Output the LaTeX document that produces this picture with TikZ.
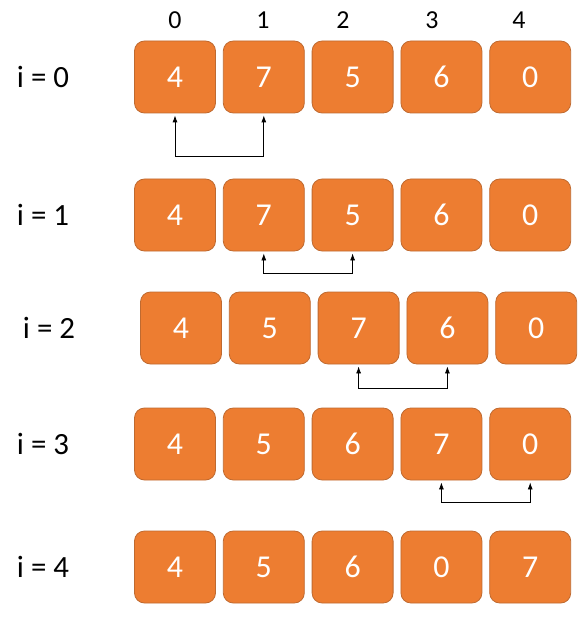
\documentclass[tikz,border=0pt]{standalone}
\usepackage{fontspec}
\setmainfont{Carlito}
\usetikzlibrary{arrows.meta,positioning}
\definecolor{boxorange}{HTML}{ED7D31}
\definecolor{boxedge}{HTML}{BF6A30}
\begin{document}
\begin{tikzpicture}[x=1bp,y=-1bp]
  \tikzstyle{cell}=[shape=rectangle, rounded corners=10bp, draw=boxedge, fill=boxorange, line width=0.8bp, text=white, minimum width=81bp, minimum height=72bp, inner sep=0pt, font=\fontsize{32}{36}\selectfont]
  \tikzstyle{rowlabel}=[inner sep=0pt, font=\fontsize{31}{36}\selectfont]
  \tikzstyle{index}=[inner sep=0pt, font=\fontsize{26}{30}\selectfont]
  \tikzstyle{connection}=[color=black, line width=0.8bp, {Latex[length=7bp,width=5bp]}-{Latex[length=7bp,width=5bp]}, shorten <=2bp, shorten >=2bp]

  \useasboundingbox (0,0) rectangle (580,619);

  % column indices
  \node [index] (I0) at (175,20) {0};
  \node [index] (I1) at (263,20) {1};
  \node [index] (I2) at (343,20) {2};
  \node [index] (I3) at (432,20) {3};
  \node [index] (I4) at (519,20) {4};

  % i = 0
  \node [rowlabel] (L0) at (43,77) {i = 0};
  \node [cell] (A0) at (175,77) {4};
  \node [cell,right=7bp of A0] (A1) {7};
  \node [cell,right=7bp of A1] (A2) {5};
  \node [cell,right=7bp of A2] (A3) {6};
  \node [cell,right=7bp of A3] (A4) {0};
  \draw[connection] (A0.south) -- ++(0,43) -| (A1.south);

  % i = 1
  \node [rowlabel] (L1) at (43,215) {i = 1};
  \node [cell] (B0) at (175,215) {4};
  \node [cell,right=7bp of B0] (B1) {7};
  \node [cell,right=7bp of B1] (B2) {5};
  \node [cell,right=7bp of B2] (B3) {6};
  \node [cell,right=7bp of B3] (B4) {0};
  \draw[connection] (B1.south) -- ++(0,22) -| (B2.south);

  % i = 2
  \node [rowlabel] (L2) at (49,328) {i = 2};
  \node [cell] (C0) at (181,328) {4};
  \node [cell,right=7bp of C0] (C1) {5};
  \node [cell,right=7bp of C1] (C2) {7};
  \node [cell,right=7bp of C2] (C3) {6};
  \node [cell,right=7bp of C3] (C4) {0};
  \draw[connection] (C2.south) -- ++(0,24) -| (C3.south);

  % i = 3
  \node [rowlabel] (L3) at (43,444) {i = 3};
  \node [cell] (D0) at (175,444) {4};
  \node [cell,right=7bp of D0] (D1) {5};
  \node [cell,right=7bp of D1] (D2) {6};
  \node [cell,right=7bp of D2] (D3) {7};
  \node [cell,right=7bp of D3] (D4) {0};
  \draw[connection] (D3.south) -- ++(0,22) -| (D4.south);

  % i = 4
  \node [rowlabel] (L4) at (43,567) {i = 4};
  \node [cell] (E0) at (175,567) {4};
  \node [cell,right=7bp of E0] (E1) {5};
  \node [cell,right=7bp of E1] (E2) {6};
  \node [cell,right=7bp of E2] (E3) {0};
  \node [cell,right=7bp of E3] (E4) {7};
\end{tikzpicture}
\end{document}
